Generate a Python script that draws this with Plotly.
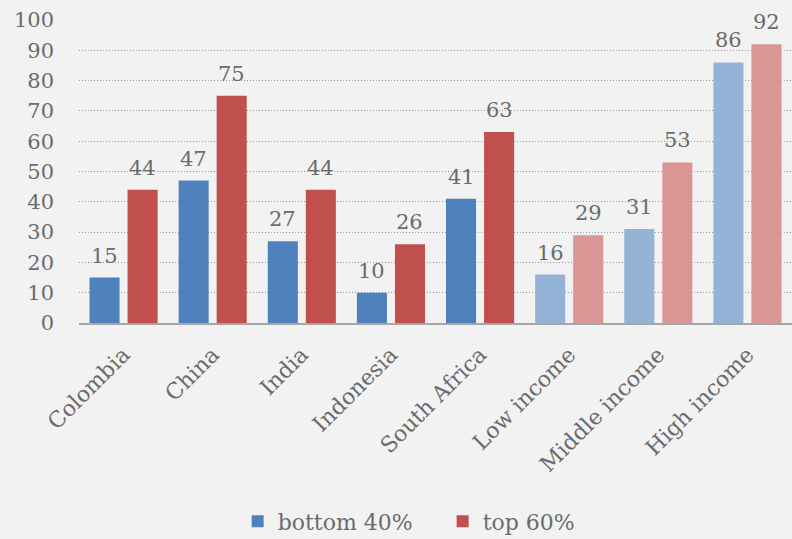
import plotly.graph_objects as go

categories = ["Colombia", "China", "India", "Indonesia", "South Africa",
              "Low income", "Middle income", "High income"]
bottom40 = [15, 47, 27, 10, 41, 16, 31, 86]
top60 = [44, 75, 44, 26, 63, 29, 53, 92]
bottom_colors = ["#4f81bd"] * 5 + ["#95b3d7"] * 3
top_colors = ["#c0504d"] * 5 + ["#d99694"] * 3

FONT = "DejaVu Serif"
GRAY = "#6b6b6b"

fig = go.Figure()
fig.add_trace(go.Bar(
    x=categories, y=bottom40, name="bottom 40%",
    marker=dict(color=bottom_colors, line=dict(width=0)),
))
fig.add_trace(go.Bar(
    x=categories, y=top60, name="top 60%",
    marker=dict(color=top_colors, line=dict(width=0)),
))

# value labels above bars
for vals, shift in ((bottom40, -19), (top60, 19)):
    for c, v in zip(categories, vals):
        fig.add_annotation(x=c, y=v, text=str(v), showarrow=False,
                           xanchor="center", yanchor="bottom",
                           xshift=shift, yshift=8,
                           font=dict(family=FONT, size=21, color=GRAY))

fig.update_layout(
    width=792, height=539,
    paper_bgcolor="#f2f2f2", plot_bgcolor="#f2f2f2",
    margin=dict(l=79, r=0, t=20, b=216, autoexpand=False),
    barmode="group", bargap=0.146, bargroupgap=0.21,
    font=dict(family=FONT, size=21, color=GRAY),
    showlegend=True,
    legend=dict(orientation="h", x=0.51, xanchor="center", y=-0.655, yanchor="middle",
                font=dict(family=FONT, size=22, color=GRAY),
                traceorder="normal", itemwidth=30,
                entrywidth=160, entrywidthmode="pixels"),
    xaxis=dict(tickangle=-45, showgrid=False, showline=True, linecolor="#a6a6a6",
               linewidth=2, ticks="", ticklabelstandoff=8,
               tickfont=dict(family=FONT, size=22, color=GRAY)),
    yaxis=dict(range=[0, 100], dtick=10, showgrid=True, gridcolor="#9a9a9a",
               griddash="1px,2px", gridwidth=1, zeroline=False, showline=False,
               ticks="", ticklabelstandoff=24,
               tickfont=dict(family=FONT, size=21, color=GRAY)),
)

fig.write_html("out.html", config={"displayModeBar": False},
               post_script="document.body.style.margin='0';")
